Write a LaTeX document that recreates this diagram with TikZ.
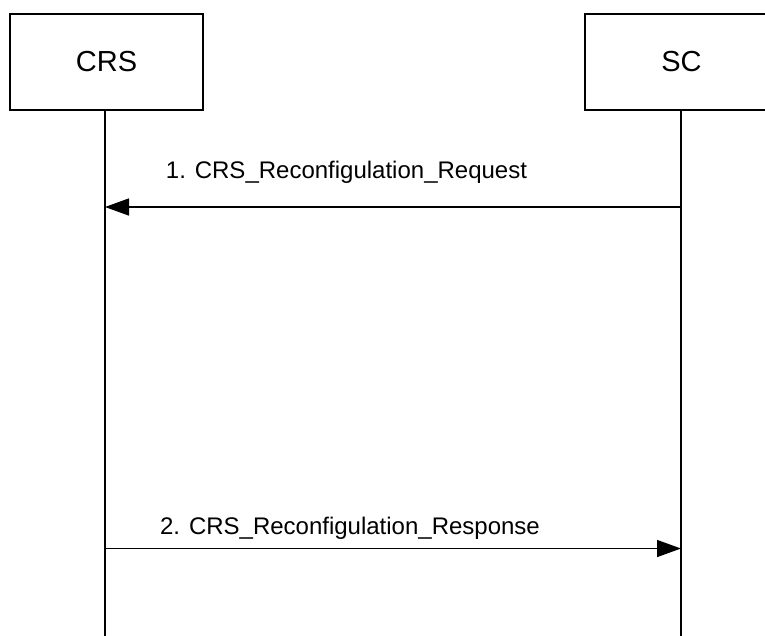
\documentclass[tikz,border=0pt]{standalone}
\usepackage{fontspec}
\setmainfont{Liberation Sans}
\usetikzlibrary{arrows.meta}
\begin{document}
\begin{tikzpicture}[x=1pt,y=-1pt,
  entity/.style={draw,line width=1.5pt,minimum width=193pt,minimum height=96pt,inner sep=0pt,font=\fontsize{29}{32}\selectfont},
  life/.style={line width=1.5pt},
  msg/.style={line width=1.5pt,-{Triangle[length=24pt,width=17pt]}},
  lbl/.style={anchor=base,inner sep=0pt,font=\fontsize{24}{28}\selectfont}]
\useasboundingbox (0,0) rectangle (765,635);
\clip (0,0) rectangle (765,635);
\fill[white] (0,0) rectangle (765,635);
\node[entity] (crs) at (106.5,62) {CRS};
\node[entity] (sc) at (681.5,62) {SC};
\coordinate (crsend) at (105,640);
\coordinate (scend) at (681,640);
\draw[life] (crs.south -| crsend) -- (crsend);
\draw[life] (sc.south -| scend) -- (scend);
\coordinate (m1a) at (681,207);
\coordinate (m1b) at (105,207);
\coordinate (m2a) at (105,548.5);
\coordinate (m2b) at (681,548.5);
\draw[msg] (m1a) -- (m1b);
\draw[msg] (m2a) -- (m2b);
\node[lbl] (l1) at (346.5,178) {1. CRS\_Reconfigulation\_Request};
\node[lbl] (l2) at (350,534) {2. CRS\_Reconfigulation\_Response};
\end{tikzpicture}
\end{document}
